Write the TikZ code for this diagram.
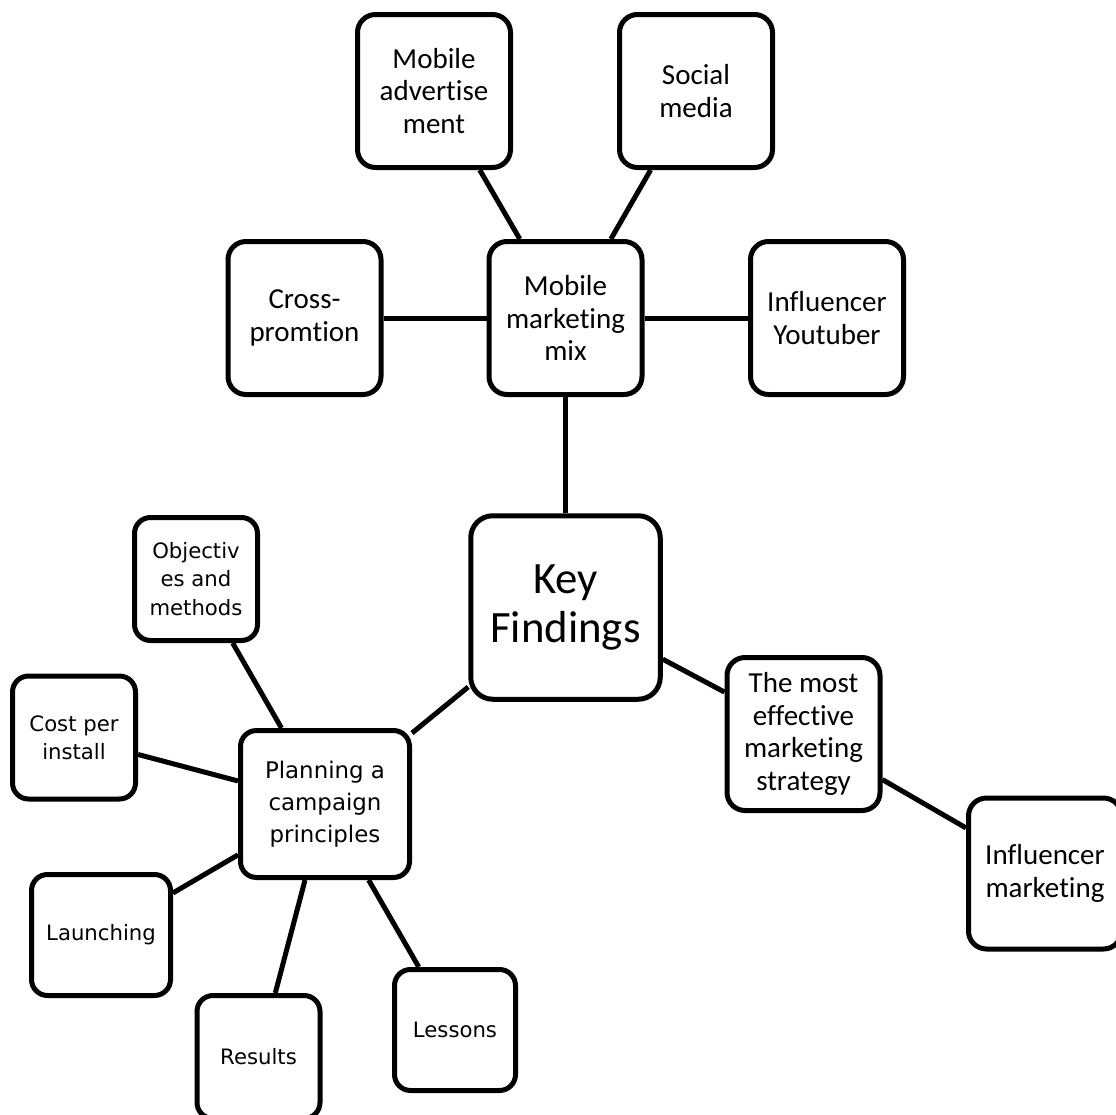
\documentclass[tikz,border=0pt]{standalone}
\usepackage{fontspec}
\setmainfont{Carlito}[Ligatures={NoCommon}]
\newfontfamily\planfont{DejaVu Sans}[Ligatures={NoCommon}]

\begin{document}
\begin{tikzpicture}[x=0.5pt,y=-0.5pt,
  box/.style={draw,line width=2.5pt,rounded corners=9pt,align=center,inner sep=0pt,
    minimum width=76.5pt,minimum height=76.5pt,font=\fontsize{14.5pt}{16.2pt}\selectfont},
  smallbox/.style={box,minimum width=61.5pt,minimum height=61.5pt,rounded corners=8pt,
    font=\planfont\fontsize{10.6pt}{14.2pt}\selectfont},
  link/.style={line width=2.5pt}]
  \clip (0,0) rectangle (1116,1115);

  \node[box] (mobadv) at (434,91) {Mobile\\advertise\\ment};
  \node[box] (social) at (696,91) {Social\\media};
  \node[box] (cross) at (304.5,318) {Cross-\\promtion};
  \node[box] (mix) at (565.5,318) {Mobile\\marketing\\mix};
  \node[box] (youtuber) at (827,318) {Influencer\\Youtuber};

  \node[box,minimum width=94.75pt,minimum height=91.75pt,rounded corners=11pt,
    font=\fontsize{22.4pt}{24.5pt}\selectfont] (key) at (565.5,607.5) {Key\\Findings};

  \node[box] (strategy) at (803.5,734) {The most\\effective\\marketing\\strategy};
  \node[box,minimum height=75.5pt] (influencer) at (1045,873.5) {Influencer\\marketing};

  \node[smallbox,minimum width=84.5pt,minimum height=73.5pt,
    font=\planfont\fontsize{11.45pt}{15.9pt}\selectfont] (planning) at (325,804) {Planning a\\campaign\\principles};
  \node[smallbox] (objectives) at (196,579) {Objectiv\\es and\\methods};
  \node[smallbox] (cost) at (74,737.5) {Cost per\\install};
  \node[smallbox,minimum width=69.5pt,minimum height=60.5pt] (launching) at (101,935) {Launching};
  \node[smallbox] (results) at (258.5,1057) {Results};
  \node[smallbox,minimum width=60.5pt,minimum height=60.5pt] (lessons) at (455,1030) {Lessons};

  \draw[link] (mobadv) -- (mix);
  \draw[link] (social) -- (mix);
  \draw[link] (cross) -- (mix);
  \draw[link] (youtuber) -- (mix);
  \draw[link] (mix) -- (key);
  \draw[link] (key) -- (strategy);
  \draw[link] (strategy) -- (influencer);
  \draw[link] (key) -- (planning);
  \draw[link] (objectives) -- (planning);
  \draw[link] (cost) -- (planning);
  \draw[link] (launching) -- (planning);
  \draw[link] (results) -- (planning);
  \draw[link] (lessons) -- (planning);

\end{tikzpicture}
\end{document}
